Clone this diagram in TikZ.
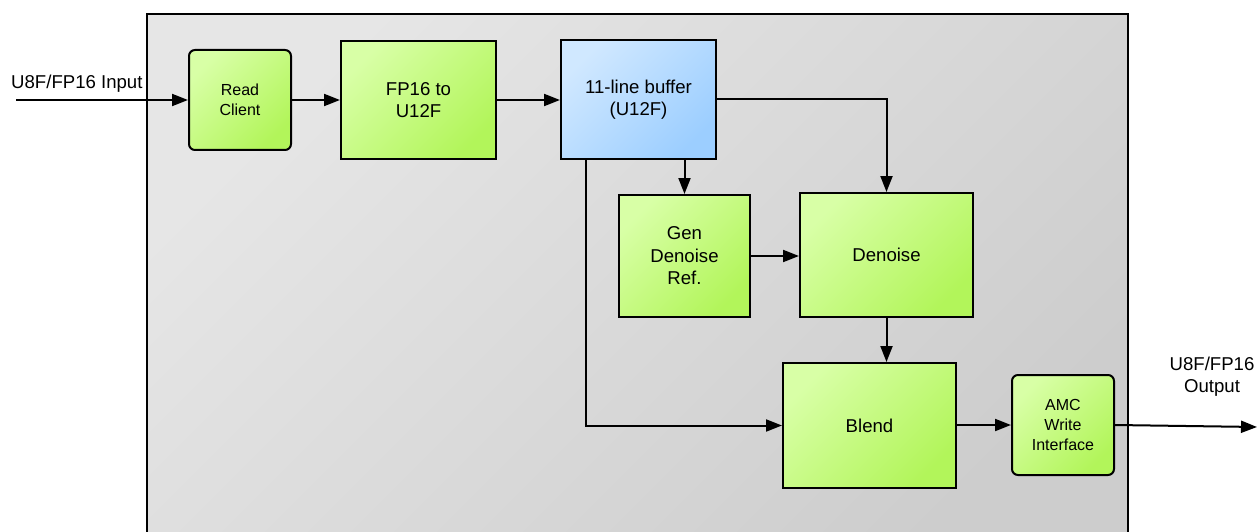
\documentclass[tikz,border=0pt]{standalone}
\usepackage{fontspec}
\setmainfont{Liberation Sans}
\usetikzlibrary{arrows.meta}
\definecolor{grnA}{HTML}{D8FFA6}
\definecolor{grnB}{HTML}{B2F55A}
\definecolor{bluA}{HTML}{D0E8FF}
\definecolor{bluB}{HTML}{9CCEFF}
\definecolor{bgA}{HTML}{E6E6E6}
\definecolor{bgB}{HTML}{CDCDCD}
\tikzset{
  blk/.style={draw=black, line width=2pt, align=center, inner sep=2pt,
    top color=grnA, bottom color=grnB, shading angle=45,
    font=\fontsize{18.6}{22.5}\selectfont},
  rblk/.style={blk, rounded corners=6pt, font=\fontsize{16}{19.7}\selectfont},
  bufblk/.style={blk, top color=bluA, bottom color=bluB, shading angle=45},
  flow/.style={line width=2pt, -{Triangle[length=16pt,width=12pt]}},
  lbl/.style={font=\fontsize{18.6}{22}\selectfont, inner sep=0pt}
}
\begin{document}
\begin{tikzpicture}[x=1pt,y=-1pt]
\useasboundingbox (0,0) rectangle (1258,532);
\clip (0,0) rectangle (1258,532);
% enclosing block
\path[top color=bgA, bottom color=bgB, shading angle=45] (147,14) rectangle (1128,560);
\draw[line width=2pt] (147,560) -- (147,14) -- (1128,14) -- (1128,560);

% processing stages
\node[rblk, minimum width=102pt, minimum height=100pt] (rd) at (240,100) {Read\\Client};
\node[blk, minimum width=155pt, minimum height=118pt] (cv) at (418.5,100) {FP16 to\\U12F};
\node[bufblk, minimum width=155pt, minimum height=119pt] (buf) at (638.5,99.5) {11-line buffer\\(U12F)};
\node[blk, minimum width=131pt, minimum height=122pt] (gen) at (684.5,256) {Gen\\Denoise\\Ref.};
\node[blk, minimum width=173pt, minimum height=124pt] (den) at (886.5,255) {Denoise};
\node[blk, minimum width=173pt, minimum height=125pt] (bl) at (869.5,425.5) {Blend};
\node[rblk, minimum width=102pt, minimum height=100pt] (amc) at (1063,425) {AMC\\Write\\Interface};

% external ports
\coordinate (in) at (16,100);
\coordinate (out) at (1257,427);
\node[lbl, anchor=base west] (inl) at (11,89) {U8F/FP16 Input};
\node[lbl, align=center, anchor=base] (outl) at (1212,392) {U8F/FP16\\Output};

% data flow
\draw[flow] (in) -- (rd.west);
\draw[flow] (rd.east) -- (cv.west);
\draw[flow] (cv.east) -- (cv.east -| buf.west);
\draw[flow] (buf.east) -| (den.north);
\draw[flow] (buf.south -| gen.north) -- (gen.north);
\draw[flow] (gen.east) -- (gen.east -| den.west);
\draw[flow] (den.south) -- (den.south |- bl.north);
\draw[flow] ([xshift=-52.5pt]buf.south) |- (bl.west);
\draw[flow] (amc.west -| bl.east) -- (amc.west);
\draw[flow] (amc.east) -- (out);
\end{tikzpicture}
\end{document}
